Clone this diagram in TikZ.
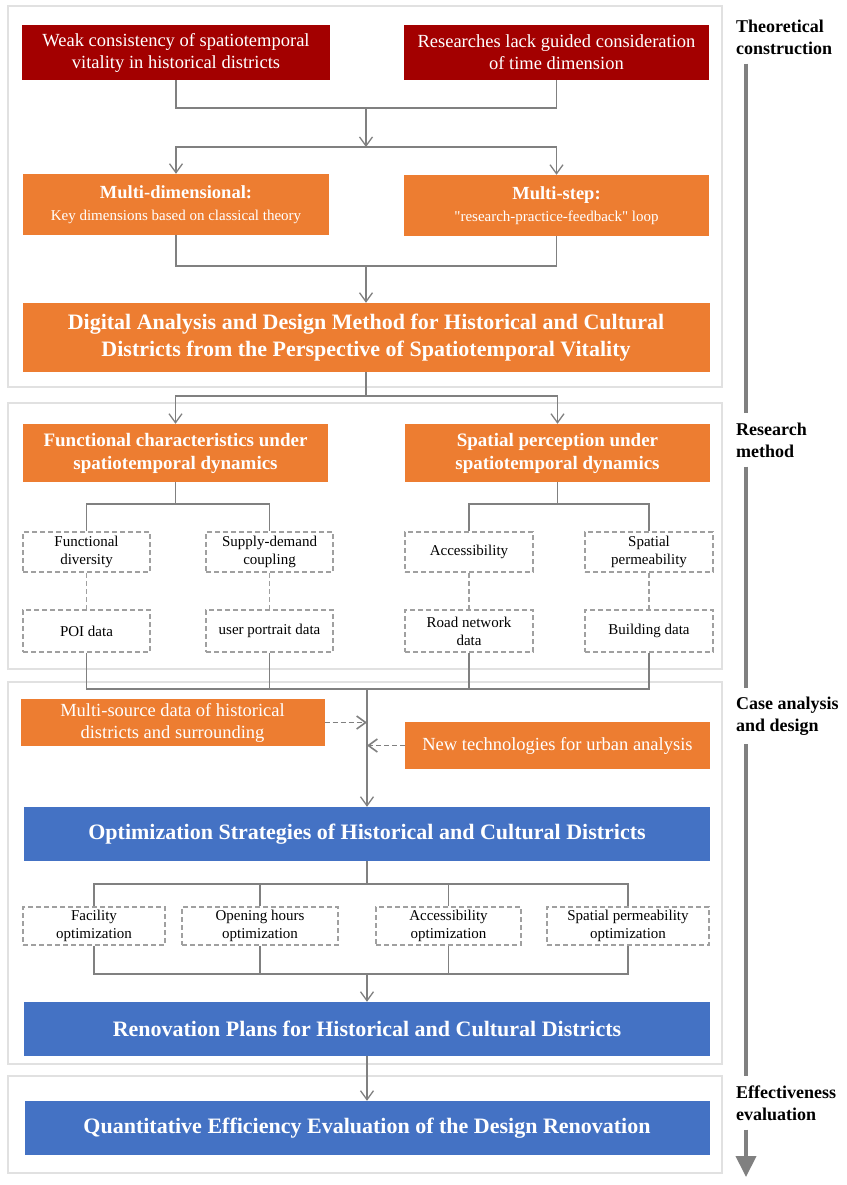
\documentclass[tikz,border=0pt]{standalone}
\usepackage{fontspec}
\setmainfont{Liberation Serif}
\usetikzlibrary{arrows.meta}

\definecolor{DarkRed}{RGB}{163,0,0}
\definecolor{OfficeOrange}{RGB}{237,125,49}
\definecolor{OfficeBlue}{RGB}{68,114,196}
\definecolor{LineGray}{RGB}{128,128,128}
\definecolor{BoxGray}{RGB}{160,160,160}
\definecolor{FrameGray}{RGB}{225,225,225}

\newcommand{\fsz}[2]{\fontsize{#1}{#2}\selectfont}

\begin{document}
\begin{tikzpicture}[x=1pt, y=-1pt,
  >={Straight Barb[length=9pt,width=13pt]},
  redbox/.style={fill=DarkRed, text=white, align=center, inner sep=0pt, minimum height=55pt, font=\fsz{18.5}{22}},
  orangebox/.style={fill=OfficeOrange, text=white, align=center, inner sep=0pt, font=\fsz{18.5}{22}},
  bluebox/.style={fill=OfficeBlue, text=white, align=center, inner sep=0pt, minimum width=686pt, minimum height=54pt, font=\bfseries\fsz{22}{27}},
  dbox/.style={draw=BoxGray, dash pattern=on 5pt off 3pt, line width=1.6pt, fill=white, align=center, inner sep=0pt, font=\fsz{15}{18}},
  link/.style={draw=LineGray, line width=1.3pt},
  dlink/.style={draw=LineGray, line width=1.6pt, dash pattern=on 5pt off 3pt},
  frame/.style={draw=FrameGray, line width=1.3pt},
  stagelabel/.style={anchor=west, align=left, inner xsep=0pt, inner ysep=9pt, font=\bfseries\fsz{18}{22}},
  stageline/.style={draw=LineGray, line width=4pt}]

\useasboundingbox (0,0) rectangle (846,1185);

% Stage frames
\draw[frame] (8,6) rectangle (722,387);
\draw[frame] (8,403) rectangle (722,669);
\draw[frame] (8,682) rectangle (722,1064);
\draw[frame] (8,1076) rectangle (722,1173);

% Theoretical construction
\node[redbox, minimum width=308pt] (weak) at (176,52.5) {Weak consistency of spatiotemporal\\vitality in historical districts};
\node[redbox, minimum width=305pt] (lack) at (556.5,52.5) {Researches lack guided consideration\\of time dimension};

\node[orangebox, minimum width=306pt, minimum height=61pt] (mdim) at (176,204.5)
  {\textbf{Multi-dimensional:}\\{\fsz{15}{20}Key dimensions based on classical theory}};
\node[orangebox, minimum width=305pt, minimum height=61pt] (mstep) at (556.5,205.5)
  {\textbf{Multi-step:}\\{\fsz{15}{20}\textquotedbl research-practice-feedback\textquotedbl{} loop}};

\node[orangebox, minimum width=687pt, minimum height=69pt, font=\bfseries\fsz{22}{27}] (dadm) at (366,337.5)
  {Digital Analysis and Design Method for Historical and Cultural\\Districts from the Perspective of Spatiotemporal Vitality};

\coordinate (j1) at (366,108);
\coordinate (j2) at (366,147);
\coordinate (j3) at (366,266);
\coordinate (j4) at (366,396);

\draw[link] (weak.south) |- (j1) -| (lack.south);
\draw[link,->] (j1) -- (j2);
\draw[link,->] (j2) -| (mdim.north);
\draw[link,->] (j2) -| (mstep.north);
\draw[link] (mdim.south) |- (j3) -| (mstep.south);
\draw[link,->] (j3) -- (dadm.north);
\draw[link] (dadm.south) -- (j4);

% Research method
\node[orangebox, minimum width=305pt, minimum height=58pt, font=\bfseries\fsz{19}{23}] (fchar) at (175.5,453)
  {Functional characteristics under\\spatiotemporal dynamics};
\node[orangebox, minimum width=305pt, minimum height=58pt, font=\bfseries\fsz{19}{23}] (sperc) at (557.5,453)
  {Spatial perception under\\spatiotemporal dynamics};

\draw[link,->] (j4) -| (fchar.north);
\draw[link,->] (j4) -| (sperc.north);

\node[dbox, minimum width=127pt, minimum height=40pt] (fdiv)  at (86.5,552)  {Functional\\diversity};
\node[dbox, minimum width=127pt, minimum height=40pt] (sdc)   at (269.5,552) {Supply-demand\\coupling};
\node[dbox, minimum width=128pt, minimum height=40pt] (acc)   at (469,552)   {Accessibility};
\node[dbox, minimum width=128pt, minimum height=40pt] (sperm) at (649,552)   {Spatial\\permeability};

\node[dbox, minimum width=127pt, minimum height=42pt] (poi) at (86.5,631)  {POI data};
\node[dbox, minimum width=127pt, minimum height=42pt] (upd) at (269.5,631) {user portrait data};
\node[dbox, minimum width=128pt, minimum height=42pt] (rnd) at (469,631)   {Road network\\data};
\node[dbox, minimum width=128pt, minimum height=42pt] (bld) at (649,631)   {Building data};

\coordinate (j5) at (fchar.south |- 0,504);
\coordinate (j6) at (sperc.south |- 0,504);
\draw[link] (fchar.south) -- (j5);
\draw[link] (fdiv.north) |- (j5) -| (sdc.north);
\draw[link] (sperc.south) -- (j6);
\draw[link] (acc.north) |- (j6) -| (sperm.north);

\foreach \a/\b in {fdiv/poi, sdc/upd, acc/rnd, sperm/bld}
{
     \draw[dlink, draw=BoxGray] (\a.south) -- (\b.north);
}

% Case analysis and design
\coordinate (j7) at (367,689);
\draw[link] (poi.south) |- (j7) -| (bld.south);
\foreach \n in {upd,rnd}
{
     \draw[link] (\n.south) -- (\n.south |- j7);
}

\node[orangebox, minimum width=304pt, minimum height=47pt] (msd) at (172.5,722.5)
  {Multi-source data of historical\\districts and surrounding};
\node[orangebox, minimum width=305pt, minimum height=47pt] (ntu) at (557.5,745.5)
  {New technologies for urban analysis};

\node[bluebox] (opt) at (367,834) {Optimization Strategies of Historical and Cultural Districts};

\draw[link,->] (j7) -- (opt.north);
\draw[dlink,->] (msd.east) -- (msd.east -| j7);
\draw[dlink,->] (ntu.west) -- (ntu.west -| j7);

\node[dbox, minimum width=142pt, minimum height=38pt] (fac) at (94,926)    {Facility\\optimization};
\node[dbox, minimum width=156pt, minimum height=38pt] (ohr) at (260,926)   {Opening hours\\optimization};
\node[dbox, minimum width=145pt, minimum height=38pt] (aco) at (448.5,926) {Accessibility\\optimization};
\node[dbox, minimum width=162pt, minimum height=38pt] (spo) at (628,926)   {Spatial permeability\\optimization};

\node[bluebox] (ren) at (367,1029) {Renovation Plans for Historical and Cultural Districts};

\coordinate (j8) at (367,884);
\coordinate (j9) at (367,974);
\draw[link] (opt.south) -- (j8);
\draw[link] (fac.north) |- (j8) -| (spo.north);
\draw[link] (fac.south) |- (j9) -| (spo.south);
\foreach \n in {ohr,aco}
{
     \draw[link] (\n.north) -- (\n.north |- j8);
     \draw[link] (\n.south) -- (\n.south |- j9);
}
\draw[link,->] (j9) -- (ren.north);

% Effectiveness evaluation
\node[bluebox, minimum width=685pt] (qee) at (367,1128) {Quantitative Efficiency Evaluation of the Design Renovation};
\draw[link,->] (ren.south) -- (qee.north);

% Stage labels
\node[stagelabel] (tc)  at (736,37)   {Theoretical\\construction};
\node[stagelabel] (rm)  at (736,440)  {Research\\method};
\node[stagelabel] (cad) at (736,716)  {Case analysis\\and design};
\node[stagelabel] (eev) at (736,1103) {Effectiveness\\evaluation};

\coordinate (sx) at (746,0);
\coordinate (send) at (746,1177);
\foreach \a/\b in {tc/rm, rm/cad, cad/eev}
{
     \draw[stageline] (\a.south -| sx) -- (\b.north -| sx);
}
\draw[stageline, -{Triangle[length=21pt,width=20pt]}] (eev.south -| sx) -- (send);

\end{tikzpicture}
\end{document}
